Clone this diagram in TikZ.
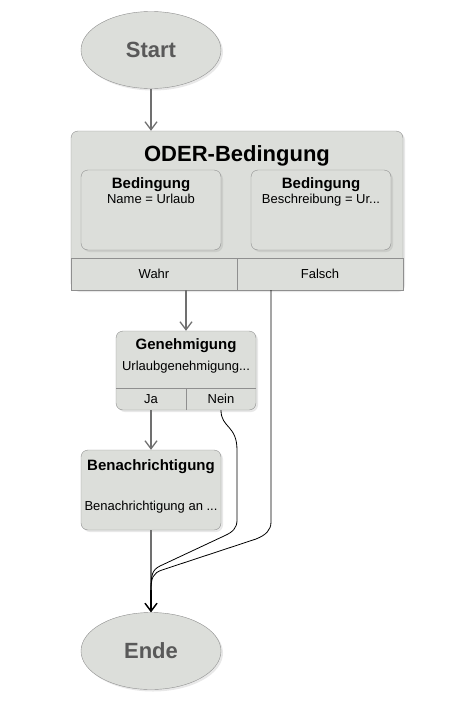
\documentclass[tikz,border=0pt]{standalone}
\usepackage{fontspec}
\setmainfont{Liberation Sans}
\usetikzlibrary{shapes.geometric,arrows.meta,positioning,shadows}
\definecolor{boxfill}{HTML}{DCDEDA}
\definecolor{boxline}{HTML}{8F8F8F}
\definecolor{wire}{HTML}{707070}

\begin{document}
\begin{tikzpicture}[x=1pt,y=-1pt]
  \tikzstyle{shade}=[drop shadow={opacity=0.18,shadow xshift=2pt,shadow yshift=-2pt}]
  \tikzstyle{term}=[ellipse,draw=boxline,fill=boxfill,shade,minimum width=140pt,minimum height=77pt,text=black!65,font=\bfseries\fontsize{22}{26}\selectfont]
  \tikzstyle{block}=[rectangle,rounded corners=7pt,draw=boxline,fill=boxfill,shade]
  \tikzstyle{cell}=[rectangle,draw=boxline,fill=boxfill,inner sep=0pt,font=\fontsize{13}{15}\selectfont]
  \tikzstyle{plain}=[inner sep=0pt,minimum width=70pt,minimum height=22pt,font=\fontsize{13}{15}\selectfont]
  \tikzstyle{hd}=[align=center,inner sep=0pt,font=\fontsize{13}{15}\selectfont]
  \tikzstyle{wireline}=[draw=wire,line width=1.3pt]
  \tikzstyle{tip}=[-{Straight Barb[length=8pt,width=12pt,line width=1.3pt]}]
  \useasboundingbox (0,0) rectangle (453,718);
  % start / ende
  \node[term] (start) at (151,50) {Start};
  \node[term] (ende) at (151,651) {Ende};
  % oder-bedingung
  \node[block,minimum width=332pt,minimum height=159pt] (oder) at (237,210.5) {};
  \node[inner sep=0pt,font=\bfseries\fontsize{22}{26}\selectfont] (otitle) at (237,156) {ODER-Bedingung};
  \node[block,minimum width=140pt,minimum height=80pt] (bed1) at (151,210) {};
  \node[block,minimum width=140pt,minimum height=80pt] (bed2) at (321,210) {};
  \node[hd,below=8pt of bed1.north] (bed1t) {{\bfseries\fontsize{15}{16}\selectfont Bedingung}\\Name = Urlaub};
  \node[hd,below=8pt of bed2.north] (bed2t) {{\bfseries\fontsize{15}{16}\selectfont Bedingung}\\Beschreibung = Ur...};
  \node[cell,minimum width=166pt,minimum height=32pt] (wahr) at (154,274) {Wahr};
  \node[cell,minimum width=166pt,minimum height=32pt] (falsch) at (320,274) {Falsch};
  % genehmigung
  \node[block,minimum width=140pt,minimum height=79pt] (gen) at (186,370.5) {};
  \node[hd,below=8pt of gen.north] (gent) {{\bfseries\fontsize{15}{16}\selectfont Genehmigung}\\[6pt]Urlaubgenehmigung...};
  \draw[draw=boxline] ([yshift=22pt]gen.south west) -- ([yshift=22pt]gen.south east);
  \draw[draw=boxline] (gen.south) -- ([yshift=22pt]gen.south);
  \node[plain] (ja) at (151,399) {Ja};
  \node[plain] (nein) at (221,399) {Nein};
  % benachrichtigung
  \node[block,minimum width=140pt,minimum height=80pt] (ben) at (151,490) {};
  \node[hd,below=10pt of ben.north] (bent) {\bfseries\fontsize{15}{16}\selectfont Benachrichtigung};
  \node[hd,above=17pt of ben.south] (benb) {Benachrichtigung an ...};
  % verbindungen
  \coordinate (merge) at (151,590);
  \coordinate (fdrop) at (271,0);
  \draw[wireline,tip] (start) -- (oder.north -| start);
  \draw[wireline,tip] (gen.north |- wahr.south) -- (gen.north);
  \draw[wireline,tip] (ja.south) -- (ben.north);
  \draw[wireline,tip] (ben.south) -- (ende.north);
  \draw[black,line width=0.8pt] (nein.south) .. controls (221,428) and (237,425) .. (237,450) -- (237,520)
    .. controls (237,528) and (233,532) .. (224,536) -- (160,566) .. controls (152,570) and (151,575) .. (merge);
  \draw[black,line width=0.8pt] (falsch.south -| fdrop) -- (271,522)
    .. controls (271,530) and (266,535) .. (256,539) -- (162,570) .. controls (153,573) and (151,578) .. (merge);
  \draw[black,line width=1.3pt,tip] (merge) -- (ende.north);
\end{tikzpicture}
\end{document}
